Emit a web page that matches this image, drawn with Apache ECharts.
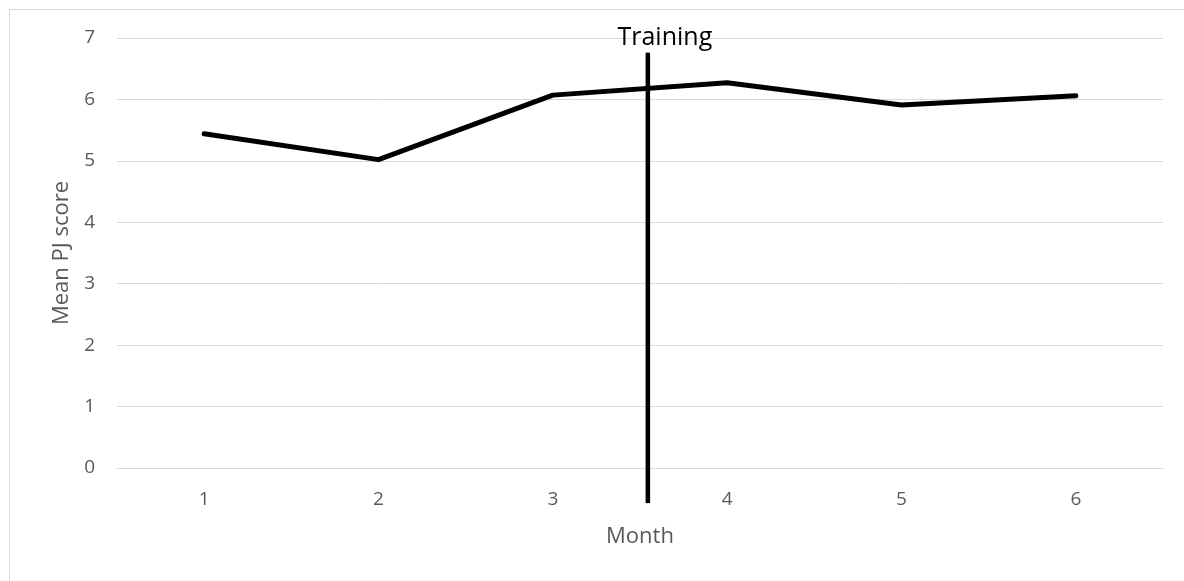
<!DOCTYPE html>
<html>
<head>
<meta charset="utf-8">
<script src="https://cdn.jsdelivr.net/npm/echarts@6/dist/echarts.min.js"></script>
<style>
  html, body { margin: 0; padding: 0; background: #ffffff; }
  #frame { position: absolute; left: 9px; top: 9px; width: 1200px; height: 600px; border: 1px solid #d9d9d9; box-sizing: border-box; }
  #chart { position: absolute; left: 0; top: 0; width: 1184px; height: 581px; }
</style>
</head>
<body>
<div id="frame"></div>
<div id="chart"></div>
<script>
// Monthly mean PJ scores
const months = ['1', '2', '3', '4', '5', '6'];
const meanScores = [5.44, 5.02, 6.07, 6.27, 5.91, 6.06];

// Training marker: position along the month index scale (0 = month 1) and its vertical extent
const trainingLabel = 'Training';
const trainingPosition = 2.545;
const trainingSpan = [-0.57, 6.76];

// Value axis range
const yMin = 0;
const yMax = 7;
const yStep = 1;

const grey = '#595959';
const gridGrey = '#d9d9d9';
const font = '"Open Sans", "Noto Sans", sans-serif';

const chart = echarts.init(document.getElementById('chart'), null, { renderer: 'canvas' });

chart.setOption({
  animation: false,
  backgroundColor: 'transparent',
  grid: { left: 117, right: 21, top: 38, bottom: 113, containLabel: false },
  xAxis: [
    {
      type: 'category',
      data: months,
      boundaryGap: true,
      name: 'Month',
      nameLocation: 'middle',
      nameGap: 58,
      nameTextStyle: { color: grey, fontSize: 22, fontFamily: font },
      axisLine: { show: true, lineStyle: { color: gridGrey, width: 1 } },
      axisTick: { show: false },
      axisLabel: { color: grey, fontSize: 19, fontFamily: font, margin: 22 },
      splitLine: { show: false }
    },
    {
      type: 'value',
      min: -0.5,
      max: months.length - 0.5,
      show: false
    }
  ],
  yAxis: {
    type: 'value',
    min: yMin,
    max: yMax,
    interval: yStep,
    name: 'Mean PJ score',
    nameLocation: 'middle',
    nameGap: 44,
    nameRotate: 90,
    nameTextStyle: { color: grey, fontSize: 22, fontFamily: font },
    axisLine: { show: false },
    axisTick: { show: false },
    axisLabel: { color: grey, fontSize: 19, fontFamily: font, margin: 22 },
    splitLine: { show: true, lineStyle: { color: gridGrey, width: 1 } }
  },
  series: [
    {
      name: 'Mean PJ score',
      type: 'line',
      xAxisIndex: 0,
      data: meanScores,
      symbol: 'none',
      lineStyle: { color: '#000000', width: 5, cap: 'round', join: 'round' },
      z: 3
    },
    {
      name: trainingLabel,
      type: 'line',
      xAxisIndex: 1,
      clip: false,
      symbol: 'circle',
      symbolSize: 1,
      itemStyle: { color: '#000000' },
      lineStyle: { color: '#000000', width: 4.5 },
      data: [
        [trainingPosition, trainingSpan[0]],
        {
          value: [trainingPosition, trainingSpan[1]],
          label: {
            show: true,
            formatter: trainingLabel,
            position: 'top',
            distance: 2,
            offset: [17, 0],
            color: '#000000',
            fontSize: 25,
            fontFamily: font
          }
        }
      ],
      z: 4
    }
  ]
});
</script>
</body>
</html>
